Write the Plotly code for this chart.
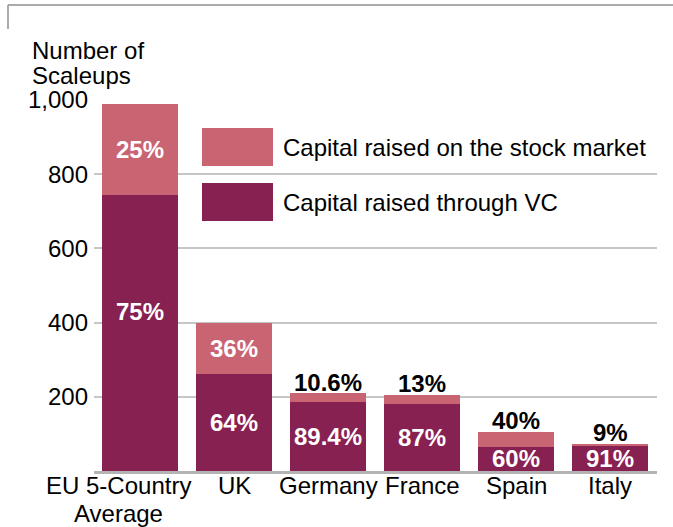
import plotly.graph_objects as go

categories = ["EU 5-Country<br>Average", "UK", "Germany", "France", "Spain", "Italy"]
vc_values = [743, 261, 186, 181, 65, 68]
stock_values = [247, 138, 24, 24, 41, 5]
vc_pct = ["75%", "64%", "89.4%", "87%", "60%", "91%"]
stock_pct = ["25%", "36%", "10.6%", "13%", "40%", "9%"]
y_ticks = [200, 400, 600, 800, 1000]
y_tick_labels = ["200", "400", "600", "800", "1,000"]
series_names = ["Capital raised through VC", "Capital raised on the stock market"]

DARK = "#872152"
LIGHT = "#C96472"
FONT = "Liberation Sans, Arial, Helvetica, sans-serif"

W, H = 673, 527
ML, MR, MT, MB = 94, 16, 100, 56
PW, PH = W - ML - MR, H - MT - MB


def px(xp):
    return (xp - ML) / PW


def py(yp):
    return (H - MB - yp) / PH


fig = go.Figure()
fig.add_trace(go.Bar(x=categories, y=vc_values, name=series_names[0],
                     marker=dict(color=DARK, line=dict(width=0))))
fig.add_trace(go.Bar(x=categories, y=stock_values, name=series_names[1],
                     marker=dict(color=LIGHT, line=dict(width=0))))

LABEL_FONT_W = dict(family=FONT, size=24, color="white", weight="bold")
LABEL_FONT_B = dict(family=FONT, size=24, color="black", weight="bold")
TEXT_FONT = dict(family=FONT, size=24, color="black")

annotations = []
for c, v, s, vp, sp in zip(categories, vc_values, stock_values, vc_pct, stock_pct):
    annotations.append(dict(x=c, y=v - min(v / 2, 313), xref="x", yref="y", text=vp,
                            showarrow=False, yanchor="middle", font=LABEL_FONT_W))
    if s > 100:
        annotations.append(dict(x=c, y=v + s / 2, xref="x", yref="y", text=sp,
                                showarrow=False, yanchor="middle", font=LABEL_FONT_W))
    else:
        annotations.append(dict(x=c, y=v + s, xref="x", yref="y", text=sp,
                                showarrow=False, yanchor="middle", yshift=11,
                                font=LABEL_FONT_B))

# category labels (first, two-line label sits a little to the left)
for i, c in enumerate(categories):
    lines = c.split("<br>")
    xs = -22 if len(lines) > 1 else 0
    for j, line in enumerate(lines):
        annotations.append(dict(x=c, y=0, xref="x", yref="y", text=line, showarrow=False,
                                yanchor="middle", xshift=xs, yshift=-14 - 28 * j,
                                font=TEXT_FONT))

# y-axis title
for txt, yc in [("Number of", 50), ("Scaleups", 75)]:
    annotations.append(dict(x=px(31), y=py(yc), xref="paper", yref="paper", text=txt,
                            showarrow=False, xanchor="left", yanchor="middle",
                            borderpad=0, font=TEXT_FONT))

# legend
shapes = []
legend_rows = [(series_names[1], LIGHT, 128, 166), (series_names[0], DARK, 183, 221)]
for name, col, y0, y1 in legend_rows:
    shapes.append(dict(type="rect", xref="paper", yref="paper", x0=px(202), x1=px(273),
                       y0=py(y1), y1=py(y0), fillcolor=col, line=dict(width=0)))
    annotations.append(dict(x=px(281), y=py((y0 + y1) / 2), xref="paper", yref="paper",
                            text=name, showarrow=False, xanchor="left", yanchor="middle",
                            font=TEXT_FONT))

# frame lines
shapes.append(dict(type="line", xref="paper", yref="paper", x0=px(8), x1=px(673),
                   y0=py(5), y1=py(5), line=dict(color="#8f8f8f", width=1.5)))
shapes.append(dict(type="line", xref="paper", yref="paper", x0=px(8), x1=px(8),
                   y0=py(5), y1=py(29), line=dict(color="#8f8f8f", width=1.5)))

fig.update_layout(
    width=W, height=H,
    margin=dict(l=ML, r=MR, t=MT, b=MB, pad=0, autoexpand=False),
    barmode="stack", bargap=0.19,
    showlegend=False,
    plot_bgcolor="white", paper_bgcolor="white",
    font=TEXT_FONT,
    annotations=annotations, shapes=shapes,
    xaxis=dict(type="category", range=[-0.49, 5.5], showgrid=False, automargin=False,
               showline=True, linecolor="#b4b4b4", linewidth=3,
               ticks="", showticklabels=False),
    yaxis=dict(range=[0, 1000], tickvals=y_ticks, ticktext=y_tick_labels, automargin=False,
               showgrid=True, gridcolor="#c6c6c6", gridwidth=2, zeroline=False,
               showline=False, ticks="", ticklabelstandoff=5,
               tickfont=dict(size=24, color="black")),
)

fig.write_html("out.html", config={"displayModeBar": False},
               post_script="document.body.style.margin='0';document.body.style.padding='0';")
